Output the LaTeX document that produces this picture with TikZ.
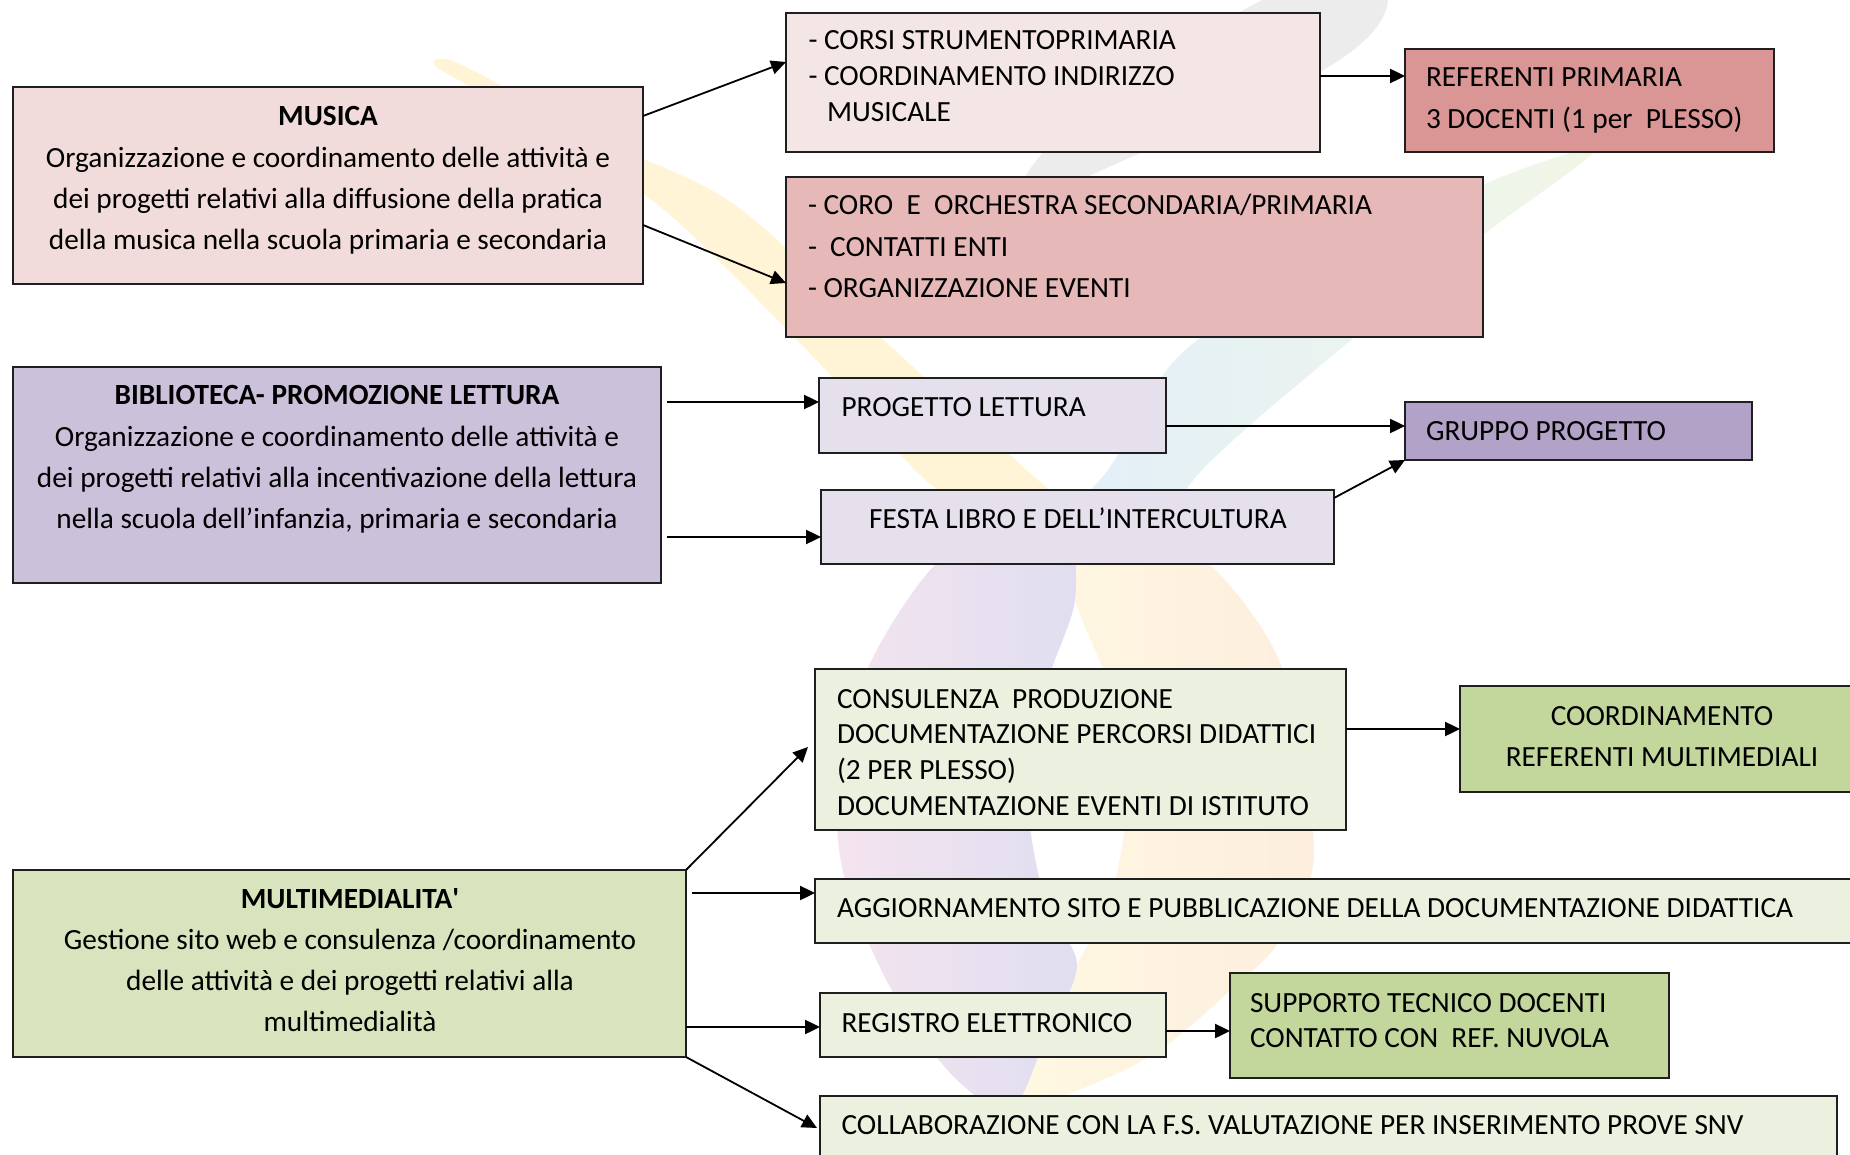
\documentclass[tikz,border=0pt]{standalone}
\usepackage{fontspec}
\setmainfont{Carlito}
\usetikzlibrary{arrows.meta}

% box fills
\definecolor{musicaC}{HTML}{F2DCDB}
\definecolor{corsiC}{HTML}{F5E6E6}
\definecolor{refC}{HTML}{D99694}
\definecolor{coroC}{HTML}{E6B9B8}
\definecolor{biblioC}{HTML}{CCC1DA}
\definecolor{lightlilac}{HTML}{E5E0EC}
\definecolor{gruppoC}{HTML}{B3A2C7}
\definecolor{multiC}{HTML}{D7E4BD}
\definecolor{lightgreen}{HTML}{EBF1DE}
\definecolor{midgreen}{HTML}{C3D69B}
% pale logo in the background
\definecolor{wmgray}{HTML}{ECECEC}
\definecolor{wmyellow}{HTML}{FFF5D6}
\definecolor{wmcream}{HTML}{FEF8E2}
\definecolor{wmblue}{HTML}{E2EFFA}
\definecolor{wmgreenish}{HTML}{F1F6E6}
\definecolor{wmpurple}{HTML}{E0DEF0}
\definecolor{wmpink}{HTML}{F4E4EF}
\definecolor{wmpeach}{HTML}{FDEEDD}

\tikzset{
  box/.style={draw=black!88, line width=2pt, inner sep=0pt, outer sep=0pt, anchor=north west},
  txt/.style={inner sep=0pt, outer sep=0pt, font=\fontsize{29.3}{41.2}\selectfont},
  tight/.style={font=\fontsize{29.3}{35.8}\selectfont},
  arr/.style={-{Triangle[length=15pt,width=14pt]}, line width=2.4pt, black},
  thinarr/.style={arr, line width=1.8pt},
}
\newcommand{\lft}[1]{\parbox[t]{1000pt}{\raggedright #1}}
\newcommand{\ctr}[2]{\parbox[t]{#1}{\centering #2}}

\begin{document}
\begin{tikzpicture}[x=1pt,y=-1pt]
\useasboundingbox (0,0) rectangle (1850,1155);
\clip (0,0) rectangle (1850,1155);
\fill[white] (0,0) rectangle (1850,1155);

% ---- background logo ----
\fill[wmgray] (1262,0) .. controls (1170,50) and (1040,110) .. (995,235)
  .. controls (1080,150) and (1380,90) .. (1388,0) -- cycle;
\shade[left color=wmblue, right color=wmgreenish] plot[smooth cycle] coordinates {
  (1030,560) (1108,470) (1175,360) (1290,280) (1487,183) (1595,150)
  (1487,232) (1345,345) (1202,470) (1120,580)};
\fill[wmyellow] plot[smooth cycle] coordinates {(438,68) (460,64) (600,140) (735,205)
  (900,355) (1021,465) (1100,540) (1065,580) (985,520) (920,475) (821,365) (670,215) (540,125)};
\shade[left color=wmcream, right color=wmpeach] plot[smooth cycle] coordinates {
  (1065,522) (1140,540) (1210,565) (1282,668) (1314,853) (1280,940) (1234,987)
  (1160,1050) (1086,1087) (1010,1110) (1045,1040) (1077,965) (1110,900) (1127,800)
  (1110,690) (1075,600)};
\shade[left color=wmpink, right color=wmpurple] plot[smooth cycle] coordinates {
  (1065,522) (1000,540) (935,565) (868,668) (838,790) (845,880) (890,987)
  (952,1075) (1010,1110) (1045,1040) (1077,965) (1045,900) (1028,800)
  (1045,690) (1075,600)};

% ---- MUSICA ----
\node[box, fill=musicaC, minimum width=630pt, minimum height=197pt] (musica) at (13,87) {};
\node[txt, anchor=base] (musicaT) at (328,126) {\ctr{620pt}{\textbf{MUSICA}\\
  Organizzazione e coordinamento delle attività e\\
  dei progetti relativi alla diffusione della pratica\\
  della musica nella scuola primaria e secondaria}};

\node[box, fill=corsiC, minimum width=534pt, minimum height=139pt] (corsi) at (786,13) {};
\node[txt, tight, anchor=base west] (corsiT) at (808.5,50) {\lft{-\ CORSI STRUMENTOPRIMARIA\\
  -\ COORDINAMENTO INDIRIZZO\\
  \hspace*{18.5pt}MUSICALE}};

\node[box, fill=refC, minimum width=369pt, minimum height=103pt] (referenti) at (1405,49) {};
\node[txt, anchor=base west] (referentiT) at (1426,87) {\lft{REFERENTI PRIMARIA\\
  3 DOCENTI (1 per\ \ PLESSO)}};

\node[box, fill=coroC, minimum width=697pt, minimum height=160pt] (coro) at (786,177) {};
\node[txt, anchor=base west] (coroT) at (808,215) {\lft{-\ CORO\ \ E\ \ ORCHESTRA SECONDARIA/PRIMARIA\\
  -\ \ CONTATTI ENTI\\
  -\ ORGANIZZAZIONE EVENTI}};

% ---- BIBLIOTECA ----
\node[box, fill=biblioC, minimum width=648pt, minimum height=216pt] (biblio) at (13,367) {};
\node[txt, anchor=base] (biblioT) at (337,405) {\ctr{640pt}{\textbf{BIBLIOTECA- PROMOZIONE LETTURA}\\
  Organizzazione e coordinamento delle attività e\\
  dei progetti relativi alla incentivazione della lettura\\
  nella scuola dell’infanzia, primaria e secondaria}};

\node[box, fill=lightlilac, minimum width=347pt, minimum height=75pt] (lettura) at (819,378) {};
\node[txt, anchor=base west] (letturaT) at (841.5,417) {PROGETTO LETTURA};

\node[box, fill=gruppoC, minimum width=347pt, minimum height=58pt] (gruppo) at (1405,402) {};
\node[txt, anchor=base west] (gruppoT) at (1426,440) {GRUPPO PROGETTO};

\node[box, fill=lightlilac, minimum width=513pt, minimum height=74pt] (festa) at (821,490) {};
\node[txt, anchor=base] (festaT) at (1078,528) {FESTA LIBRO E DELL’INTERCULTURA};

% ---- MULTIMEDIALITA' ----
\node[box, fill=multiC, minimum width=673pt, minimum height=187pt] (multi) at (13,870) {};
\node[txt, anchor=base] (multiT) at (350,908) {\ctr{660pt}{\textbf{MULTIMEDIALITA\textquotesingle}\\
  Gestione sito web e consulenza /coordinamento\\
  delle attività e dei progetti relativi alla\\
  multimedialità}};

\node[box, fill=lightgreen, minimum width=531pt, minimum height=161pt] (consul) at (815,669) {};
\node[txt, tight, anchor=base west] (consulT) at (837,708) {\lft{CONSULENZA\ \ PRODUZIONE\\
  DOCUMENTAZIONE PERCORSI DIDATTICI\\
  (2 PER PLESSO)\\
  DOCUMENTAZIONE EVENTI DI ISTITUTO}};

\node[box, fill=midgreen, minimum width=410pt, minimum height=106pt] (coordref) at (1460,686) {};
\node[txt, anchor=base] (coordrefT) at (1662,725) {\ctr{400pt}{COORDINAMENTO\\
  REFERENTI MULTIMEDIALI}};

\node[box, fill=lightgreen, minimum width=1055pt, minimum height=64pt] (aggiorn) at (815,879) {};
\node[txt, anchor=base west] (aggiornT) at (837,917) {AGGIORNAMENTO SITO E PUBBLICAZIONE DELLA DOCUMENTAZIONE DIDATTICA};

\node[box, fill=lightgreen, minimum width=346pt, minimum height=64pt] (registro) at (820,993) {};
\node[txt, anchor=base west] (registroT) at (841.5,1032) {REGISTRO ELETTRONICO};

\node[box, fill=midgreen, minimum width=439pt, minimum height=105pt] (supporto) at (1230,973) {};
\node[txt, tight, anchor=base west] (supportoT) at (1250,1012) {\lft{SUPPORTO TECNICO DOCENTI\\
  CONTATTO CON\ \ REF. NUVOLA}};

\node[box, fill=lightgreen, minimum width=1017pt, minimum height=80pt] (collab) at (820,1096) {};
\node[txt, anchor=base west] (collabT) at (841.5,1134) {COLLABORAZIONE CON LA F.S. VALUTAZIONE PER INSERIMENTO PROVE SNV};

% ---- connectors ----
\draw[thinarr] ([yshift=-29pt]musica.north east) -- ([yshift=-49pt]corsi.north west);
\draw[thinarr] ([yshift=-138pt]musica.north east) -- ([yshift=-106pt]coro.north west);
\draw[arr] ([yshift=-63pt]corsi.north east) -- ([yshift=-27pt]referenti.north west);

\draw[arr] ([xshift=6pt,yshift=-35pt]biblio.north east) -- ([yshift=-24pt]lettura.north west);
\draw[arr] ([xshift=6pt,yshift=-170pt]biblio.north east) -- ([yshift=-47pt]festa.north west);
\draw[arr] ([yshift=-48pt]lettura.north east) -- ([yshift=-24pt]gruppo.north west);
\draw[thinarr] ([yshift=-8pt]festa.north east) -- (gruppo.south west);

\draw[thinarr] (multi.north east) -- ([xshift=-7pt,yshift=-78pt]consul.north west);
\draw[arr] ([xshift=6pt,yshift=-23pt]multi.north east) -- ([yshift=-14pt]aggiorn.north west);
\draw[arr] ([yshift=-157pt]multi.north east) -- ([yshift=-34pt]registro.north west);
\draw[thinarr] (multi.south east) -- ([xshift=-3pt,yshift=-32pt]collab.north west);
\draw[arr] ([yshift=-60pt]consul.north east) -- ([yshift=-43pt]coordref.north west);
\draw[arr] ([yshift=-38pt]registro.north east) -- ([yshift=-58pt]supporto.north west);
\end{tikzpicture}
\end{document}
